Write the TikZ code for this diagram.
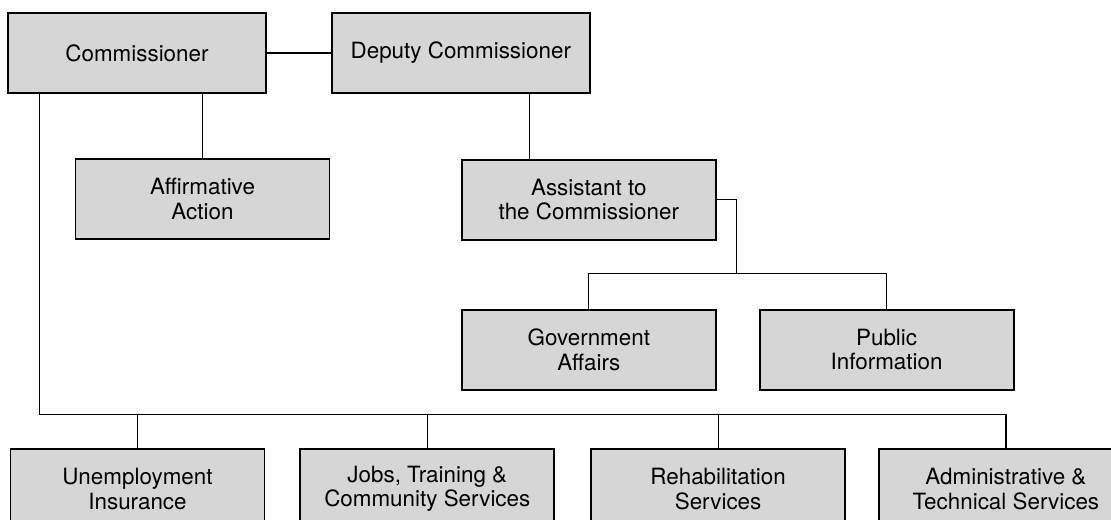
\documentclass[tikz,border=0pt]{standalone}
\usepackage{fontspec}
\setmainfont{TeX Gyre Heros}
\usepackage{xcolor}
\usepackage{tikz}
\usetikzlibrary{positioning}

\definecolor{boxgray}{gray}{0.84}

\begin{document}
\begin{tikzpicture}[
	unit/.style={draw, line width=0.9pt, fill=boxgray, minimum width=127pt, minimum height=40pt,
		align=center, inner sep=2pt, font=\fontsize{11.2pt}{12.2pt}\selectfont},
	link/.style={line width=0.6pt}
	]
	\useasboundingbox (0,0) rectangle (555.5pt,-259.5pt);

	% top level
	\node[unit, minimum width=129pt] (comm) at (68.5pt,-26.5pt) {Commissioner};
	\node[unit, minimum width=129pt] (dep) [right = 32pt of comm] {Deputy Commissioner};
	\draw[link] (comm) -- (dep);

	\node[unit] (aff) [below = 32pt of comm, xshift=32.75pt] {Affirmative\\Action};
	\draw[link] (aff.north) -- (aff.north |- comm.south);

	\node[unit] (asst) [below = 32.5pt of dep, xshift=64pt] {Assistant to\\the Commissioner};
	\draw[link] ([xshift=-29.5pt]asst.north) -- ([xshift=-29.5pt]asst.north |- dep.south);

	% staff under the assistant
	\node[unit] (gov) [below = 34pt of asst] {Government\\Affairs};
	\node[unit] (pub) [right = 21pt of gov] {Public\\Information};

	\coordinate (pbus) at ([yshift=17.5pt]gov.north);
	\coordinate[right = 10pt of asst.east] (ajog);
	\draw[link] (asst.east) -- (ajog) -- (ajog |- pbus);
	\draw[link] (gov.north) -- (gov.north |- pbus) -- (pub.north |- pbus) -- (pub.north);

	% divisions
	\node[unit] (unemp) at (68.75pt,-244.5pt) {Unemployment\\Insurance};
	\node[unit] (jobs) [right = 17pt of unemp] {Jobs, Training \&\\Community Services};
	\node[unit] (rehab) [right = 17.5pt of jobs] {Rehabilitation\\Services};
	\node[unit] (admin) [right = 16pt of rehab] {Administrative \&\\Technical Services};

	\coordinate (bbus) at ([yshift=17pt]unemp.north);
	\coordinate[right = 16pt of comm.south west] (cdrop);
	\draw[link] (cdrop) |- (admin.north |- bbus) -- (admin.north);
	\draw[link] (unemp.north) -- (unemp.north |- bbus);
	\draw[link] (jobs.north) -- (jobs.north |- bbus);
	\draw[link] (rehab.north) -- (rehab.north |- bbus);
\end{tikzpicture}
\end{document}
